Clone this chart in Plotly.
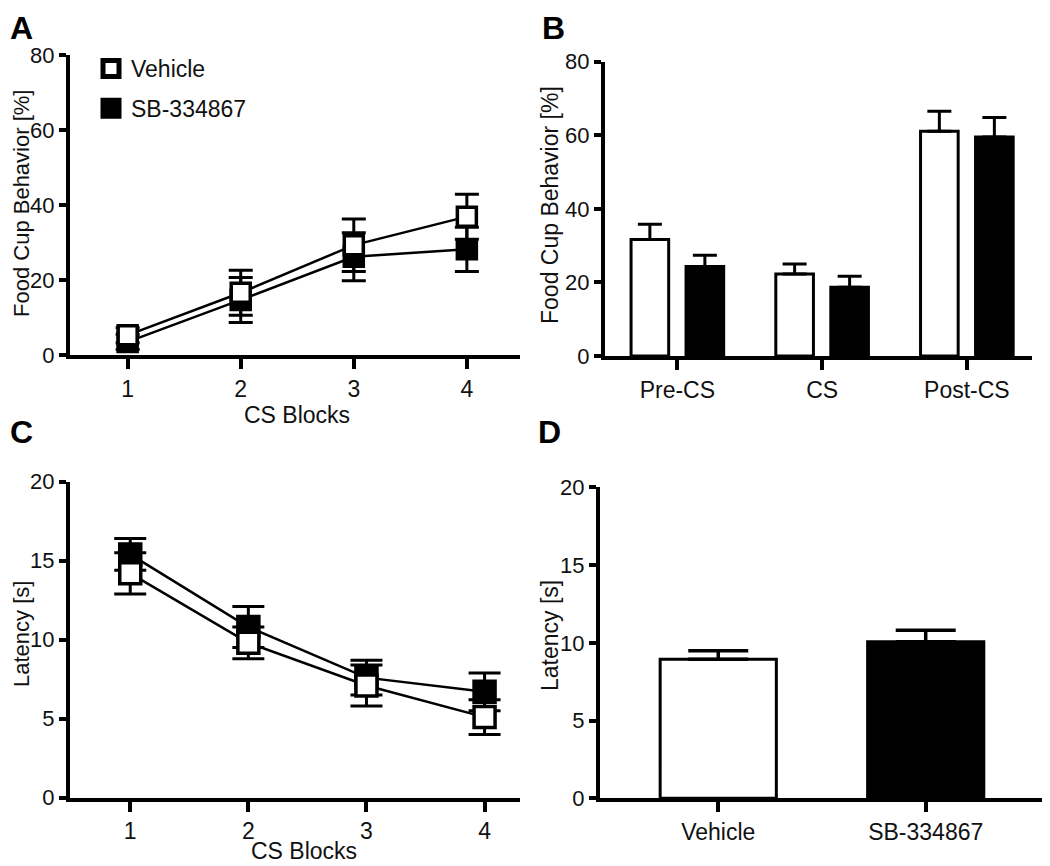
import plotly.graph_objects as go

# The page body has an 8px default margin, so the figure is 8px smaller than the
# window and every reference pixel position is shifted by that margin.
PAGE_MARGIN = 8
W, H = 1050 - PAGE_MARGIN, 866 - PAGE_MARGIN

# ---------------- data ----------------
blocks = [1, 2, 3, 4]
# Panel A: food cup behavior [%] across CS blocks
a_vehicle = [5.3, 16.6, 29.3, 36.9]
a_vehicle_err = [2.0, 6.0, 7.0, 6.0]
a_sb = [3.5, 14.7, 26.2, 28.2]
a_sb_err = [2.0, 6.0, 6.4, 5.9]

# Panel B: food cup behavior by period
periods = ["Pre-CS", "CS", "Post-CS"]
b_vehicle = [31.7, 22.3, 61.1]
b_vehicle_err = [4.1, 2.7, 5.4]
b_sb = [24.3, 18.7, 59.5]
b_sb_err = [3.1, 3.0, 5.3]

# Panel C: latency [s] across CS blocks
c_vehicle = [14.2, 9.8, 7.1, 5.1]
c_vehicle_err = [1.3, 1.0, 1.3, 1.1]
c_sb = [15.4, 10.8, 7.6, 6.7]
c_sb_err = [1.0, 1.3, 1.1, 1.2]

# Panel D: overall latency [s]
groups = ["Vehicle", "SB-334867"]
d_values = [8.94, 10.07]
d_err = [0.55, 0.73]

FONT = "Liberation Sans, Arial, sans-serif"
BLACK = "#000000"
TXT = "#111111"

def px_x(p):
    return (p - PAGE_MARGIN) / W

def px_y(p):
    return 1 - (p - PAGE_MARGIN) / H

fig = go.Figure()

# ---- Panel A ----
fig.add_trace(go.Scatter(
    x=blocks, y=a_sb, mode="lines+markers", xaxis="x", yaxis="y",
    line=dict(color=BLACK, width=2.5),
    marker=dict(symbol="square", size=19, color=BLACK, line=dict(color=BLACK, width=3.5)),
    error_y=dict(type="data", array=a_sb_err, color=BLACK, thickness=3, width=12),
    cliponaxis=False, showlegend=False))
fig.add_trace(go.Scatter(
    x=blocks, y=a_vehicle, mode="lines+markers", xaxis="x", yaxis="y",
    line=dict(color=BLACK, width=2.5),
    marker=dict(symbol="square", size=19, color="white", line=dict(color=BLACK, width=3.5)),
    error_y=dict(type="data", array=a_vehicle_err, color=BLACK, thickness=3, width=12),
    cliponaxis=False, showlegend=False))

# legend entries
fig.add_trace(go.Scatter(
    x=[None], y=[None], mode="markers", name="Vehicle", xaxis="x", yaxis="y",
    marker=dict(symbol="square", size=16, color="white", line=dict(color=BLACK, width=5)),
    legendgroup="v"))
fig.add_trace(go.Scatter(
    x=[None], y=[None], mode="markers", name="SB-334867", xaxis="x", yaxis="y",
    marker=dict(symbol="square", size=16, color=BLACK, line=dict(color=BLACK, width=5)),
    legendgroup="s"))

# ---- Panel B ----
fig.add_trace(go.Bar(
    x=periods, y=b_vehicle, xaxis="x2", yaxis="y2",
    marker=dict(color="white", line=dict(color=BLACK, width=3)),
    error_y=dict(type="data", symmetric=False, array=b_vehicle_err,
                 arrayminus=[0] * len(b_vehicle), color=BLACK, thickness=3, width=12),
    showlegend=False))
fig.add_trace(go.Bar(
    x=periods, y=b_sb, xaxis="x2", yaxis="y2",
    marker=dict(color=BLACK, line=dict(color=BLACK, width=3)),
    error_y=dict(type="data", symmetric=False, array=b_sb_err,
                 arrayminus=[0] * len(b_sb), color=BLACK, thickness=3, width=12),
    showlegend=False))

# ---- Panel C ----
fig.add_trace(go.Scatter(
    x=blocks, y=c_sb, mode="lines+markers", xaxis="x3", yaxis="y3",
    line=dict(color=BLACK, width=2.5),
    marker=dict(symbol="square", size=21, color=BLACK, line=dict(color=BLACK, width=3.5)),
    error_y=dict(type="data", array=c_sb_err, color=BLACK, thickness=3, width=16),
    cliponaxis=False, showlegend=False))
fig.add_trace(go.Scatter(
    x=blocks, y=c_vehicle, mode="lines+markers", xaxis="x3", yaxis="y3",
    line=dict(color=BLACK, width=2.5),
    marker=dict(symbol="square", size=21, color="white", line=dict(color=BLACK, width=3.5)),
    error_y=dict(type="data", array=c_vehicle_err, color=BLACK, thickness=3, width=16),
    cliponaxis=False, showlegend=False))

# ---- Panel D ----
fig.add_trace(go.Bar(
    x=groups, y=d_values, xaxis="x4", yaxis="y4", width=0.56,
    marker=dict(color=["white", BLACK], line=dict(color=BLACK, width=3)),
    error_y=dict(type="data", symmetric=False, array=d_err,
                 arrayminus=[0] * len(d_values), color=BLACK, thickness=3.5, width=30),
    showlegend=False))

axis_common = dict(showline=True, linecolor=BLACK, linewidth=4, showgrid=False,
                   zeroline=False, ticks="outside", tickcolor=BLACK, tickwidth=3.5,
                   automargin=False, fixedrange=True)

xcommon = dict(axis_common, ticklen=10, tickfont=dict(family=FONT, size=23, color=TXT))
ycommon = dict(axis_common, ticklen=7, tickfont=dict(family=FONT, size=22, color=TXT))

fig.update_layout(
    width=W, height=H,
    margin=dict(l=0, r=0, t=0, b=0, pad=0, autoexpand=False),
    paper_bgcolor="white", plot_bgcolor="white",
    font=dict(family=FONT, color=TXT),
    barmode="group", bargap=0.24, bargroupgap=0.316,
    xaxis=dict(xcommon, domain=[px_x(70), px_x(520)], range=[0.49, 4.47],
               tickvals=blocks, anchor="y"),
    yaxis=dict(ycommon, domain=[px_y(355), px_y(55)], range=[0, 80],
               tickvals=[0, 20, 40, 60, 80], anchor="x"),
    xaxis2=dict(xcommon, domain=[px_x(605), px_x(1032)], range=[-0.5, 2.45],
                anchor="y2", type="category"),
    yaxis2=dict(ycommon, domain=[px_y(356), px_y(61.7)], range=[0, 80],
                tickvals=[0, 20, 40, 60, 80], anchor="x2"),
    xaxis3=dict(xcommon, domain=[px_x(70), px_x(520)], range=[0.49, 4.3],
                tickvals=blocks, anchor="y3"),
    yaxis3=dict(ycommon, domain=[px_y(797.7), px_y(481.7)], range=[0, 20],
                tickvals=[0, 5, 10, 15, 20], anchor="x3"),
    xaxis4=dict(xcommon, domain=[px_x(600), px_x(1045)], range=[-0.57, 1.575],
                anchor="y4", type="category"),
    yaxis4=dict(ycommon, domain=[px_y(798.3), px_y(487.3)], range=[0, 20],
                tickvals=[0, 5, 10, 15, 20], anchor="x4"),
    legend=dict(x=px_x(91), y=px_y(47), xanchor="left", yanchor="top",
                bgcolor="rgba(0,0,0,0)", font=dict(family=FONT, size=23, color=TXT),
                tracegroupgap=7, traceorder="grouped"),
)

annotations = []
# panel letters
for letter, x, y in [("A", 8, 8), ("B", 540, 8), ("C", 8, 412), ("D", 536, 412)]:
    annotations.append(dict(text=f"<b>{letter}</b>", x=px_x(x), y=px_y(y), xref="paper", yref="paper",
                            xanchor="left", yanchor="top", showarrow=False,
                            font=dict(family=FONT, size=32, color=BLACK)))
# axis titles
for text, x, y, ang, size in [("Food Cup Behavior [%]", 21, 204, -90, 22),
                              ("Food Cup Behavior [%]", 550, 205, -90, 23),
                              ("Latency [s]", 21, 634, -90, 22),
                              ("Latency [s]", 550, 636, -90, 23),
                              ("CS Blocks", 297, 415, 0, 23),
                              ("CS Blocks", 304, 851, 0, 23)]:
    annotations.append(dict(text=text, x=px_x(x), y=px_y(y), xref="paper", yref="paper",
                            xanchor="center", yanchor="middle", textangle=ang, showarrow=False,
                            font=dict(family=FONT, size=size, color=TXT)))
fig.update_layout(annotations=annotations)

fig.write_html("out.html")
